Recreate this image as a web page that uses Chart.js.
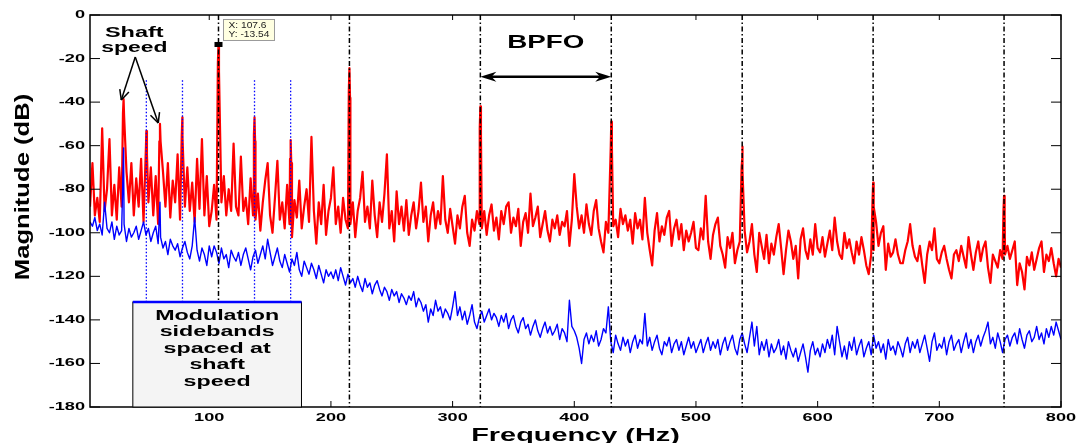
<!DOCTYPE html>
<html>
<head>
<meta charset="utf-8">
<script src="https://cdn.jsdelivr.net/npm/chart.js@4.4.1/dist/chart.umd.min.js"></script>
<style>
  body { margin: 0; background: #fff; }
</style>
</head>
<body>
<canvas id="spectrum" width="1081" height="443"></canvas>
<script>
// spectrum bins: 2 Hz .. 800 Hz, 2 Hz apart
const binStart = 2;
const binStep = 2;

// faulty bearing (red), dB per bin
const faultyDb = [
  -88, -68, -92, -84, -95, -52, -90, -80, -57, -92,
  -78, -94, -70, -88, -46, -72, -86, -68, -92, -75,
  -88, -66, -95, -60, -86, -70, -92, -74, -96, -58,
  -72, -88, -68, -93, -76, -86, -64, -94, -56, -88,
  -70, -90, -77, -95, -66, -89, -57, -92, -74, -97,
  -90, -78, -94, -26, -86, -74, -92, -80, -90, -59,
  -88, -92, -65, -90, -84, -96, -75, -92, -94, -82,
  -99, -86, -76, -68, -92, -100, -84, -67, -94, -86,
  -98, -78, -96, -102, -85, -93, -76, -98, -88, -80,
  -95, -56, -90, -105, -86, -96, -78, -101, -90, -84,
  -70, -96, -88, -100, -84, -94, -98, -96, -86, -102,
  -90, -84, -72, -95, -88, -98, -76, -92, -102, -86,
  -95, -82, -64, -98, -90, -104, -81, -96, -88, -99,
  -85, -101, -92, -86, -98, -90, -77, -95, -88, -104,
  -92, -86, -98, -90, -96, -74, -94, -100, -89, -97,
  -105, -92, -98, -88, -83, -100, -106, -94, -99, -90,
  -96, -98, -90, -101, -92, -87, -99, -93, -103, -90,
  -96, -88, -86, -100, -93, -97, -89, -106, -95, -91,
  -100, -82, -97, -93, -88, -102, -96, -90, -99, -104,
  -94, -98, -92, -101, -95, -97, -90, -106, -94, -73,
  -88, -98, -92, -100, -87, -96, -101, -90, -85, -98,
  -104, -109, -95, -100, -60, -97, -94, -102, -89, -96,
  -92, -99, -94, -105, -91, -98, -94, -103, -84, -100,
  -108, -115, -99, -91, -104, -97, -101, -93, -90, -106,
  -98, -94, -103, -96, -108, -99, -104, -100, -95, -107,
  -108, -98, -103, -83, -104, -112, -101, -96, -93, -106,
  -110, -116, -102, -107, -100, -114, -108, -104, -66, -99,
  -109, -104, -96, -110, -118, -100, -106, -112, -101, -114,
  -105, -110, -102, -96, -107, -119, -108, -99, -104, -112,
  -106, -121, -103, -98, -108, -112, -103, -110, -96, -107,
  -109, -102, -111, -105, -99, -108, -93, -104, -110, -112,
  -100, -107, -103, -109, -114, -104, -110, -102, -108, -115,
  -119, -110, -108, -95, -106, -100, -97, -117, -105, -111,
  -109, -103, -110, -114, -114, -108, -104, -96, -106, -111,
  -113, -106, -115, -123, -110, -104, -108, -98, -112, -114,
  -109, -106, -112, -117, -121, -110, -108, -113, -106, -111,
  -116, -102, -110, -117, -109, -104, -113, -107, -104, -116,
  -123, -110, -113, -116, -108, -112, -110, -106, -112, -108,
  -104, -124, -114, -118, -126, -111, -115, -109, -117, -112,
  -107, -104, -118, -110, -113, -107, -114, -120, -112, -116
];

// healthy bearing (blue), dB per bin
const healthyDb = [
  -95, -97, -93, -99, -96, -101, -86, -98, -100, -95,
  -103, -97, -101, -99, -96, -104, -98, -102, -100, -97,
  -103, -99, -95, -101, -98, -104, -100, -97, -105, -102,
  -107, -104, -110, -103, -106, -108, -105, -111, -107, -104,
  -109, -112, -106, -93, -108, -113, -107, -110, -115, -106,
  -111, -106, -109, -114, -107, -112, -110, -116, -108, -111,
  -113, -109, -115, -110, -107, -112, -117, -111, -108, -114,
  -110, -106, -112, -103, -109, -115, -111, -107, -113, -116,
  -110, -114, -118, -112, -115, -109, -117, -120, -113, -116,
  -119, -114, -117, -121, -115, -119, -123, -117, -120, -118,
  -121, -117, -122, -116, -120, -124, -119, -123, -121, -125,
  -120, -124, -127, -121, -125, -123, -128, -124, -122, -126,
  -129, -125, -127, -131, -126, -129, -127, -132, -128, -130,
  -133, -129, -131, -127, -134, -130, -132, -136, -133, -141,
  -135, -138, -131, -136, -134, -139, -135, -137, -140, -134,
  -127, -138, -134, -140, -136, -142, -138, -133, -141, -144,
  -139, -136, -141, -138, -135, -140, -137, -139, -143, -138,
  -141, -137, -144, -140, -138, -143, -146, -141, -139, -144,
  -142, -147, -143, -140, -145, -148, -144, -141, -146, -143,
  -147, -145, -142, -149, -144, -146, -150, -131, -143, -145,
  -148, -153, -160, -149, -146, -151, -147, -150, -145, -152,
  -149, -144, -146, -134, -150, -155, -147, -151, -154, -148,
  -152, -149, -155, -150, -147, -153, -149, -151, -137, -152,
  -148, -154, -150, -147, -153, -156, -150, -152, -148, -155,
  -151, -149, -154, -150, -156, -152, -148, -153, -150, -155,
  -152, -149, -155, -151, -148, -154, -150, -153, -149, -156,
  -151, -148, -154, -150, -147, -153, -156, -149, -146, -151,
  -155, -148, -141, -152, -143, -156, -150, -154, -149, -157,
  -151, -155, -153, -149, -156, -152, -158, -150, -154, -157,
  -153, -159, -155, -151, -157, -164, -154, -150, -156, -153,
  -157, -151, -155, -149, -153, -147, -156, -143, -150, -157,
  -152, -158, -150, -154, -148, -156, -152, -149, -157, -153,
  -150, -156, -147, -153, -150, -155, -151, -158, -149, -154,
  -152, -156, -150, -153, -157, -151, -148, -155, -150, -153,
  -149, -155, -151, -147, -153, -159, -150, -146, -154, -151,
  -153, -148, -156, -150, -147, -154, -151, -149, -155, -150,
  -146, -153, -149, -155, -150, -147, -152, -148, -145, -141,
  -151, -148, -153, -146, -150, -155, -149, -147, -152, -148,
  -146, -151, -144, -149, -153, -147, -145, -150, -148, -143,
  -149, -146, -151, -144, -148, -143, -147, -141, -145, -149
];

// sharp lines sitting between bins (with their shoulders): [Hz, dB]
const faultyPeaks = [
  [29.1, -45], [29.6, -38.6],
  [48.3, -53.3], [48.8, -64],
  [59.0, -58], [59.5, -50],
  [77.4, -55], [77.9, -47],
  [107.1, -22], [107.6, -13.54],
  [136.7, -55], [137.2, -47], [137.7, -58],
  [166.4, -66], [166.9, -57.4], [167.4, -68],
  [214.7, -35], [215.2, -24.4], [215.7, -38],
  [322.3, -52], [322.8, -42], [323.3, -55],
  [430.4, -49], [430.9, -60],
  [537.5, -70], [538.0, -60.4], [538.5, -72],
  [645.1, -85], [645.6, -77], [646.1, -88],
  [752.7, -90], [753.2, -83], [753.7, -92]
];
const healthyPeaks = [[29.6, -61], [59.5, -86]];

// BPFO harmonics and shaft-speed sidebands
const bpfoLines = [107.6, 215.2, 322.8, 430.4, 538.0, 645.6, 753.2];
const sidebandLines = [48.3, 78.0, 137.2, 166.9];
const sidebandTop = -30;
const sidebandBottom = -131.8;

const xTicks = [100, 200, 300, 400, 500, 600, 700, 800];
const yTicks = [0, -20, -40, -60, -80, -100, -120, -140, -160, -180];

const tipX = 107.6;
const tipY = -13.54;

function toPoints(values, peaks) {
  const pts = values.map((v, i) => ({ x: binStart + binStep * i, y: v }));
  peaks.forEach(p => pts.push({ x: p[0], y: p[1] }));
  return pts.sort((a, b) => a.x - b.x);
}

const FONT = '"Liberation Sans", Arial, sans-serif';

function stretchText(ctx, s, x, y, font, sx, align, base) {
  ctx.save();
  ctx.translate(x, y);
  ctx.scale(sx, 1);
  ctx.font = font;
  ctx.textAlign = align || 'center';
  ctx.textBaseline = base || 'alphabetic';
  ctx.fillText(s, 0, 0);
  ctx.restore();
}

function line(ctx, x1, y1, x2, y2) {
  ctx.beginPath();
  ctx.moveTo(x1, y1);
  ctx.lineTo(x2, y2);
  ctx.stroke();
}

function openHead(ctx, x1, y1, x2, y2, len) {
  const ang = Math.atan2(y2 - y1, x2 - x1);
  [0.45, -0.45].forEach(d => {
    line(ctx, x2, y2, x2 - len * Math.cos(ang + d), y2 - len * Math.sin(ang + d));
  });
}

function solidHead(ctx, x, y, dir, len, half) {
  ctx.beginPath();
  ctx.moveTo(x, y);
  ctx.lineTo(x - dir * len, y - half);
  ctx.lineTo(x - dir * len * 0.7, y);
  ctx.lineTo(x - dir * len, y + half);
  ctx.closePath();
  ctx.fill();
}

const overlay = {
  id: 'overlay',
  afterDraw(chart) {
    const { ctx, chartArea: a, scales: { x, y } } = chart;
    const px = v => x.getPixelForValue(v);
    const py = v => y.getPixelForValue(v);
    ctx.save();

    // axes box and inward ticks
    ctx.strokeStyle = '#000';
    ctx.lineWidth = 1.5;
    ctx.strokeRect(a.left, a.top, a.right - a.left, a.bottom - a.top);
    ctx.lineWidth = 1;
    xTicks.forEach(v => {
      line(ctx, px(v), a.bottom, px(v), a.bottom - 6);
      line(ctx, px(v), a.top, px(v), a.top + 5);
    });
    yTicks.forEach(v => {
      line(ctx, a.left, py(v), a.left + 10, py(v));
      line(ctx, a.right, py(v), a.right - 10, py(v));
    });

    // tick labels
    ctx.fillStyle = '#000';
    yTicks.forEach(v => {
      stretchText(ctx, String(v), a.left - 5, py(v), 'bold 11px ' + FONT, 1.65, 'right', 'middle');
    });
    xTicks.forEach(v => {
      stretchText(ctx, String(v), px(v), a.bottom + 5, 'bold 11px ' + FONT, 1.65, 'center', 'top');
    });

    // axis titles
    stretchText(ctx, 'Frequency (Hz)', (a.left + a.right) / 2, 441, 'bold 19px ' + FONT, 1.52);
    ctx.save();
    ctx.translate(29, 187);
    ctx.rotate(-Math.PI / 2);
    ctx.scale(1.22, 1);
    ctx.font = 'bold 21px ' + FONT;
    ctx.textAlign = 'center';
    ctx.fillText('Magnitude (dB)', 0, 0);
    ctx.restore();

    // sideband note box
    const bx1 = px(37.2), bx2 = px(175.8), by1 = py(sidebandBottom), by2 = py(-180);
    ctx.fillStyle = '#f4f4f4';
    ctx.fillRect(bx1, by1, bx2 - bx1, by2 - by1);
    ctx.strokeStyle = '#000';
    ctx.lineWidth = 1;
    ctx.strokeRect(bx1, by1, bx2 - bx1, by2 - by1);
    ctx.strokeStyle = '#0000ff';
    ctx.lineWidth = 2.5;
    line(ctx, bx1, by1, bx2, by1);
    ctx.fillStyle = '#000';
    const bc = (bx1 + bx2) / 2;
    ['Modulation', 'sidebands', 'spaced at', 'shaft', 'speed'].forEach((s, i) => {
      stretchText(ctx, s, bc, by1 + 18 + i * 16.4, 'bold 15px ' + FONT, 1.55);
    });

    // BPFO
    stretchText(ctx, 'BPFO', (px(322.8) + px(430.4)) / 2, a.top + 33, 'bold 18.5px ' + FONT, 1.5);
    const ay = py(-28.3);
    ctx.strokeStyle = '#000';
    ctx.lineWidth = 2.5;
    line(ctx, px(322.8) + 8, ay, px(430.4) - 8, ay);
    solidHead(ctx, px(322.8), ay, -1, 16, 5);
    solidHead(ctx, px(430.4), ay, 1, 16, 5);

    // shaft speed
    stretchText(ctx, 'Shaft', px(38.4), py(-10.3), 'bold 14.5px ' + FONT, 1.62);
    stretchText(ctx, 'speed', px(38.4), py(-16.8), 'bold 14.5px ' + FONT, 1.58);
    ctx.lineWidth = 1.5;
    const sx = px(39.2), sy = py(-19.3);
    [[27.7, -39], [58.1, -49.6]].forEach(t => {
      line(ctx, sx, sy, px(t[0]), py(t[1]));
      openHead(ctx, sx, sy, px(t[0]), py(t[1]), 11);
    });

    // data tip
    const mx = px(tipX), my = py(tipY);
    ctx.fillStyle = '#000';
    ctx.fillRect(mx - 4, my - 2.5, 8, 5);
    const tx = mx + 5, ty = my - 25;
    ctx.fillStyle = '#ffffe1';
    ctx.fillRect(tx, ty, 51, 21);
    ctx.strokeStyle = '#9a9a9a';
    ctx.lineWidth = 1;
    ctx.strokeRect(tx, ty, 51, 21);
    ctx.fillStyle = '#222';
    stretchText(ctx, 'X: ' + tipX, tx + 5, ty + 8.5, '8.5px ' + FONT, 1.2, 'left');
    stretchText(ctx, 'Y: ' + tipY, tx + 5, ty + 17.5, '8.5px ' + FONT, 1.2, 'left');

    ctx.restore();
  }
};

const datasets = [
  {
    label: 'Faulty',
    data: toPoints(faultyDb, faultyPeaks),
    borderColor: '#ff0000',
    borderWidth: 2.2,
    borderJoinStyle: 'round',
    order: 3
  },
  {
    label: 'Healthy',
    data: toPoints(healthyDb, healthyPeaks),
    borderColor: '#0000ff',
    borderWidth: 1.4,
    borderJoinStyle: 'round',
    order: 2
  }
];
bpfoLines.forEach(f => {
  datasets.push({
    data: [{ x: f, y: 0 }, { x: f, y: -180 }],
    borderColor: '#000',
    borderWidth: 1.5,
    borderDash: [5, 2.5, 1.5, 2.5],
    order: 1
  });
});
sidebandLines.forEach(f => {
  datasets.push({
    data: [{ x: f, y: sidebandTop }, { x: f, y: sidebandBottom }],
    borderColor: '#0000ff',
    borderWidth: 1.3,
    borderDash: [1.5, 2],
    order: 1
  });
});

const config = {
  type: 'line',
  data: { datasets: datasets },
  options: {
    responsive: false,
    animation: false,
    events: [],
    elements: { point: { radius: 0 }, line: { tension: 0, fill: false } },
    layout: { padding: { left: 90, right: 20, top: 15, bottom: 36 } },
    plugins: { legend: { display: false }, tooltip: { enabled: false } },
    scales: {
      x: {
        type: 'linear',
        min: 2,
        max: 800,
        afterBuildTicks: s => { s.ticks = xTicks.map(v => ({ value: v })); },
        ticks: { display: false },
        grid: { display: false, drawTicks: false },
        border: { display: false }
      },
      y: {
        type: 'linear',
        min: -180,
        max: 0,
        afterBuildTicks: s => { s.ticks = yTicks.map(v => ({ value: v })); },
        ticks: { display: false },
        grid: { display: false, drawTicks: false },
        border: { display: false }
      }
    }
  },
  plugins: [overlay]
};

const spectrumChart = new Chart(document.getElementById('spectrum').getContext('2d'), config);
</script>
</body>
</html>
